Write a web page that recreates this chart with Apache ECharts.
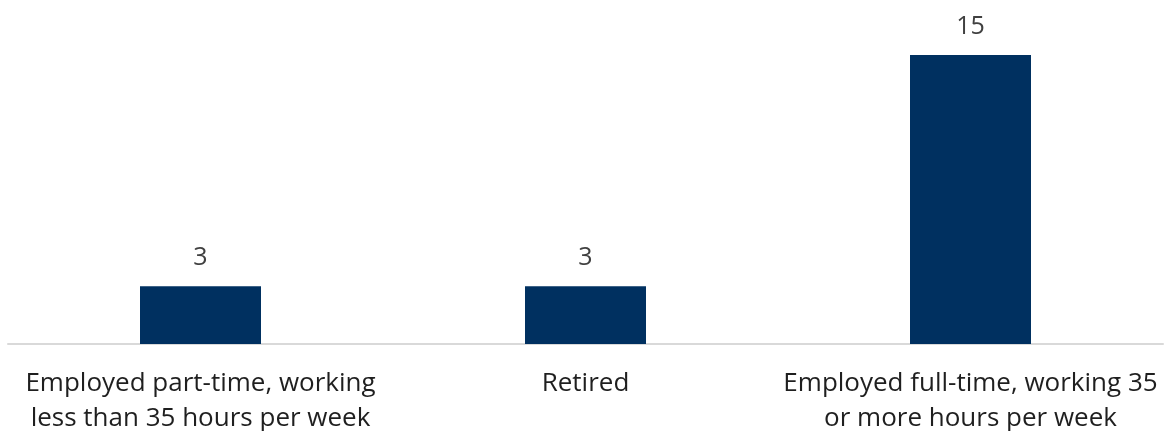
<!DOCTYPE html>
<html>
<head>
<meta charset="utf-8">
<script src="https://cdn.jsdelivr.net/npm/echarts@6/dist/echarts.min.js"></script>
<style>
  html, body { margin: 0; padding: 0; background: #ffffff; }
  #chart { width: 1171px; height: 431px; }
</style>
</head>
<body>
<div id="chart"></div>
<script>
// Employment status categories and counts
const categories = [
  'Employed part-time, working\nless than 35 hours per week',
  'Retired',
  'Employed full-time, working 35\nor more hours per week'
];
const counts = [3, 3, 15];

const font = '"Open Sans", "Noto Sans", sans-serif';
const chart = echarts.init(document.getElementById('chart'));
chart.setOption({
  animation: false,
  textStyle: { fontFamily: font },
  grid: { left: 8, right: 8, top: 55, bottom: 87, outerBoundsMode: 'none', containLabel: false },
  xAxis: {
    type: 'category',
    data: categories,
    axisLine: { lineStyle: { color: '#d9d9d9', width: 2 } },
    axisTick: { show: false },
    axisLabel: {
      interval: 0,
      margin: 22,
      fontSize: 26,
      lineHeight: 35,
      color: '#1f1f1f',
      fontFamily: font
    }
  },
  yAxis: {
    type: 'value',
    min: 0,
    max: 15,
    show: false,
    splitLine: { show: false }
  },
  series: [{
    type: 'bar',
    data: counts,
    barWidth: 121,
    itemStyle: { color: '#003060' },
    label: {
      show: true,
      position: 'top',
      distance: 16,
      fontSize: 25,
      color: '#404040',
      fontFamily: font
    }
  }]
});
</script>
</body>
</html>
